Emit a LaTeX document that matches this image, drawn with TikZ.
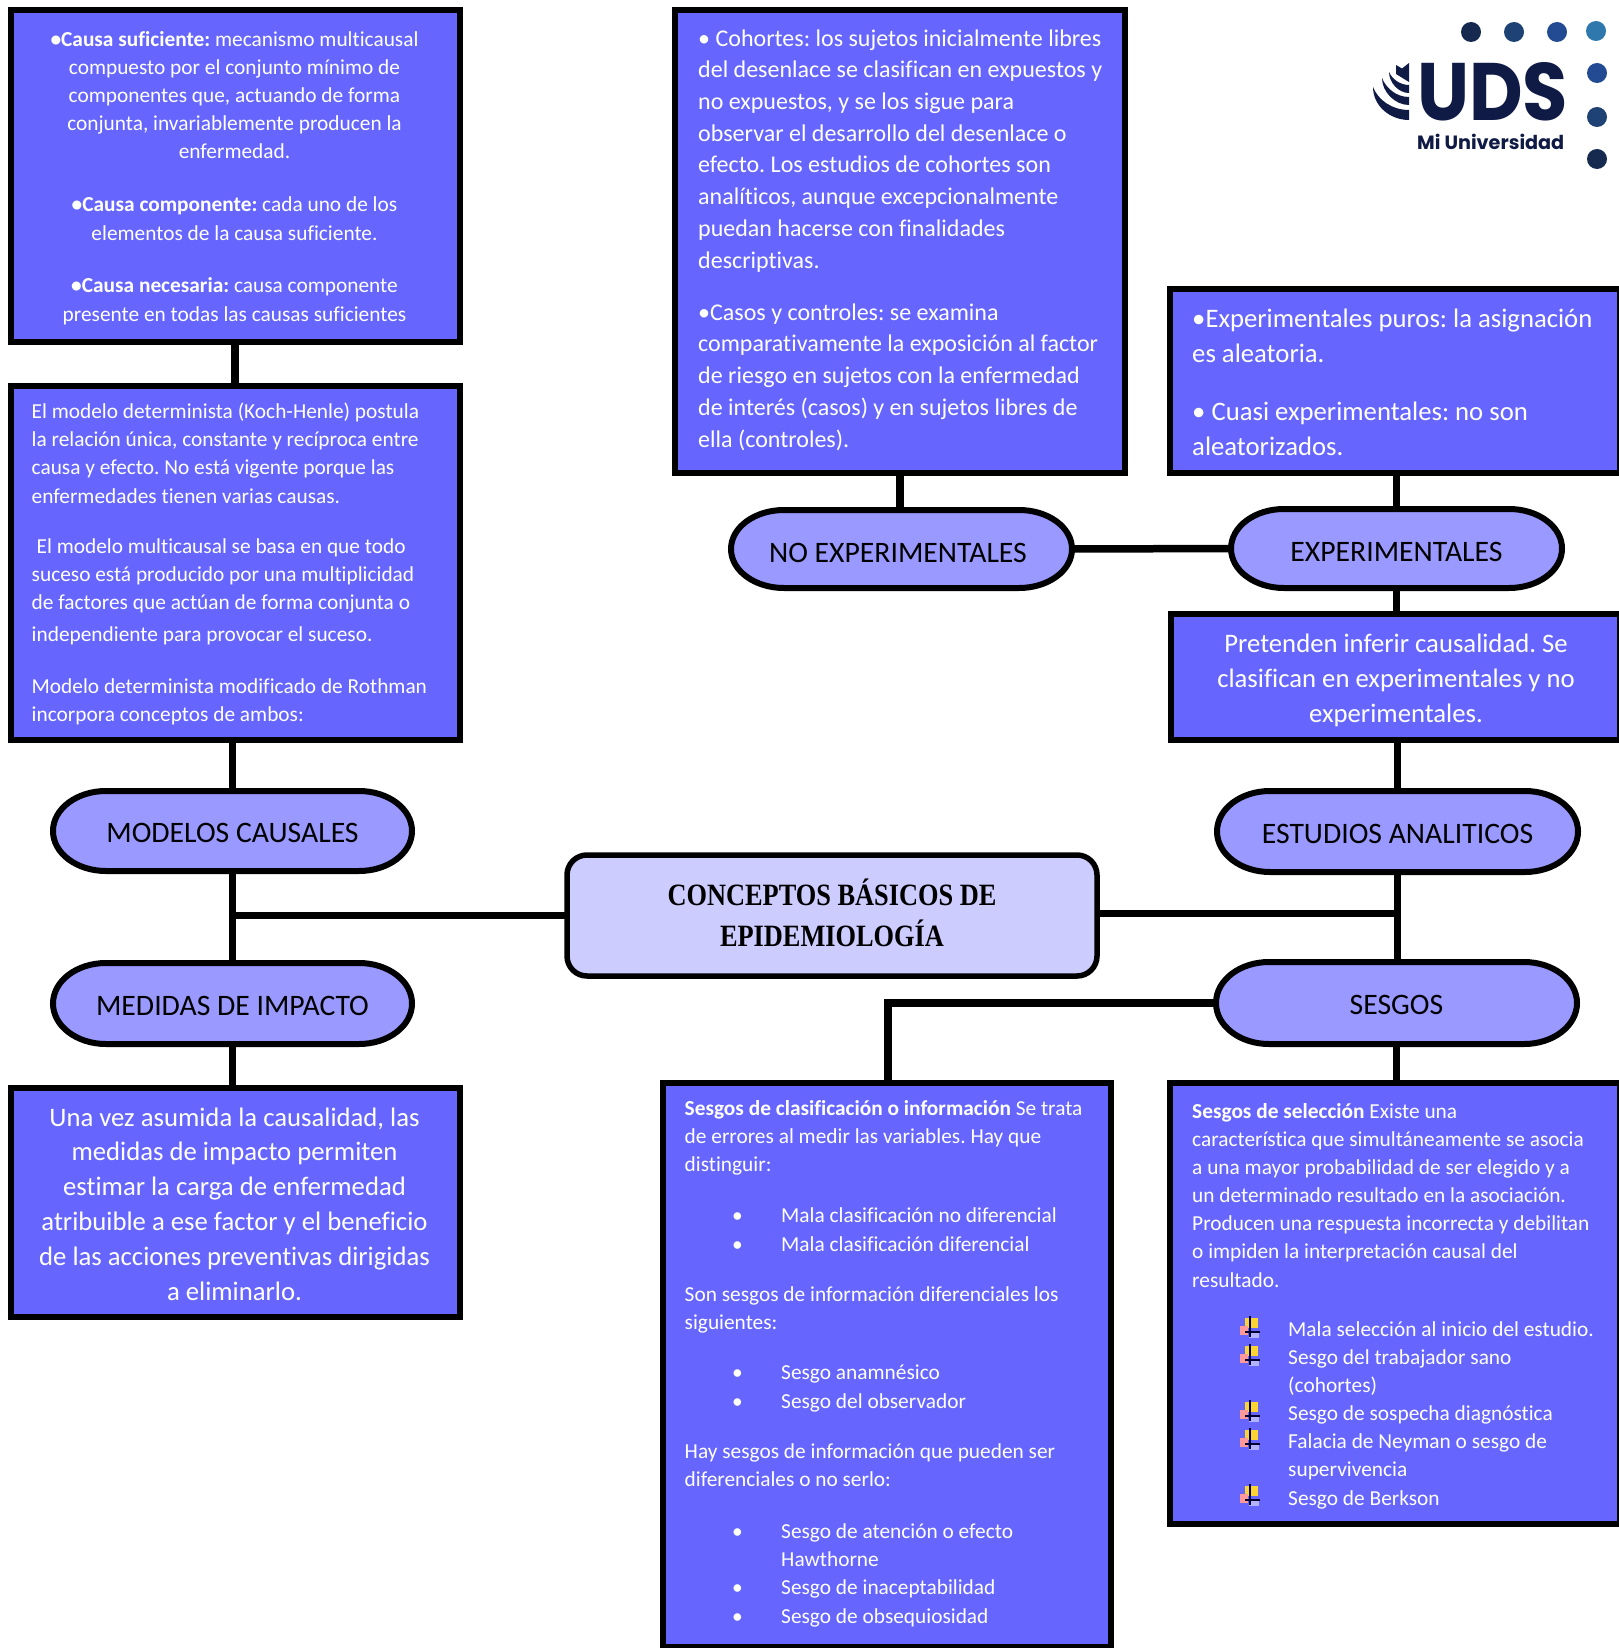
\documentclass[tikz,border=0pt]{standalone}
\usepackage{fontspec}
\usepackage{graphicx}
\setmainfont[Ligatures=CommonOff]{Carlito}
\newfontfamily\titlefont[FakeStretch=0.85]{Liberation Serif}
\newfontfamily\logofont{Poppins}
\definecolor{boxblue}{HTML}{6666FF}
\definecolor{pillblue}{HTML}{9999FF}
\definecolor{coreblue}{HTML}{CCCCFF}
\definecolor{logonavy}{HTML}{0F1A45}
\definecolor{dotA}{HTML}{16294F}
\definecolor{dotB}{HTML}{1E4273}
\definecolor{dotC}{HTML}{234B93}
\definecolor{dotD}{HTML}{2F78AE}
\newcommand{\fs}[2]{\fontsize{#1}{#2}\selectfont}
\newcommand{\li}{\makebox[49pt][l]{•}}
\newcommand{\ct}{\hspace*{49pt}}
\newcommand{\ricon}[2]{%
  \begin{scope}[shift={(#1,#2)}]
    \fill[yellow!65!orange!80!white] (-7,-14) rectangle (6,-4);
    \fill[red!40!white] (-12,-6) rectangle (-4,3);
    \fill[blue!30!white] (-3,-1) rectangle (7,6);
    \draw[black!80!blue,line width=1.2pt] (-2,-16) -- (-2,5);
    \draw[black!80!blue,line width=1.2pt] (-7,0) -- (8,0);
  \end{scope}}
% name, left, top, width, height, baseline drop, text
\newcommand{\pillnode}[7]{%
  \draw[pillline] ({#2+53},#3) -- ({#2+#4-53},#3)
    .. controls ({#2+#4-24},#3) and ({#2+#4},{#3+#5*0.22}) .. ({#2+#4},{#3+#5/2})
    .. controls ({#2+#4},{#3+#5*0.78}) and ({#2+#4-24},{#3+#5}) .. ({#2+#4-53},{#3+#5})
    -- ({#2+53},{#3+#5})
    .. controls ({#2+24},{#3+#5}) and (#2,{#3+#5*0.78}) .. (#2,{#3+#5/2})
    .. controls (#2,{#3+#5*0.22}) and ({#2+24},#3) .. ({#2+53},#3) -- cycle;
  \node[pilltext,minimum width=#4pt,minimum height=#5pt] (#1) at (#2,#3) {\raisebox{-#6pt}[0pt][0pt]{#7}};}
\tikzset{
  x=1pt,y=-1pt,
  bx/.style={draw=black,line width=6pt,fill=boxblue,inner sep=0pt,outer sep=0pt,anchor=north west},
  pillline/.style={draw=black,line width=6pt,fill=pillblue},
  pilltext/.style={inner sep=0pt,outer sep=0pt,text=black,font=\fs{29.7}{34},anchor=north west},
  core/.style={draw=black,line width=5.5pt,fill=coreblue,inner sep=0pt,outer sep=0pt,rounded corners=20pt,anchor=north west},
  link/.style={draw=black,line width=7.5pt},
  pl/.style={text=white,inner sep=0pt,anchor=base west,align=left},
  pc/.style={text=white,inner sep=0pt,anchor=base,align=center},
  small/.style={font=\fs{21.35}{28.05}},
  mid/.style={font=\fs{24}{31.7}},
  big/.style={font=\fs{26.7}{34.9}},
  dot/.style={circle,inner sep=0pt,minimum size=20pt},
}
\begin{document}
\frenchspacing
\begin{tikzpicture}
\useasboundingbox (0,0) rectangle (1618.4,1648);
\fill[white] (0,0) rectangle (1620,1648);
% boxes
\node[bx,minimum width=449pt,minimum height=332pt] (bA) at (10.5,10) {};
\node[bx,minimum width=449pt,minimum height=354pt] (bB) at (10.5,386) {};
\node[bx,minimum width=449pt,minimum height=229pt] (bI) at (10.5,1088) {};
\node[bx,minimum width=450pt,minimum height=463pt] (bC) at (675,10) {};
\node[bx,minimum width=450pt,minimum height=184pt] (bE) at (1170,289) {};
\node[bx,minimum width=449pt,minimum height=126pt] (bP) at (1171,614) {};
\node[bx,minimum width=448pt,minimum height=564pt] (bL) at (663,1083) {};
\node[bx,minimum width=450pt,minimum height=441pt] (bS) at (1170,1083) {};
% pills
\pillnode{pN}{731}{510}{341}{78}{13.5}{\hspace*{-7pt}NO EXPERIMENTALES}
\pillnode{pX}{1231}{509}{331}{79}{13}{EXPERIMENTALES}
\pillnode{pM}{53}{791}{359}{80}{11}{MODELOS CAUSALES}
\pillnode{pA}{1217}{791}{361}{81}{11.5}{ESTUDIOS ANALITICOS}
\pillnode{pD}{53}{963}{359}{81}{12}{MEDIDAS DE IMPACTO}
\pillnode{pS}{1216}{962}{361}{82}{11.5}{SESGOS}
% centre
\node[core,minimum width=530pt,minimum height=121pt,align=center,font=\titlefont\bfseries\fs{31}{41},text=black] (ctr) at (567,855) {CONCEPTOS BÁSICOS DE\\EPIDEMIOLOGÍA\rule[-6pt]{0pt}{0pt}};
% connectors
\coordinate (jl) at (pM.south |- ctr.west);
\coordinate (jr) at (pA.south |- ctr.east);
\draw[link] (bA.south) -- (bB.north);
\draw[link] (bB.south -| pM.north) -- (pM.north);
\draw[link] (pM.south) -- (pD.north);
\draw[link] (ctr.west) -- (jl);
\draw[link] (pD.south) -- (bI.north -| pD.south);
\draw[link] ([yshift=2pt]ctr.east) -- ([yshift=2pt]jr);
\draw[link] (pA.south) -- (pS.north -| pA.south);
\draw[link] (pA.north) -- (bP.south -| pA.north);
\draw[link] (bP.north -| pX.south) -- (pX.south);
\draw[link] (pX.north) -- (bE.south -| pX.north);
\draw[link] (bC.south) -- (bC.south |- pN.north);
\draw[link] (pN.east) -- (pX.west);
\coordinate (el) at (bL.north |- pS.west);
\draw[link] (pS.west) -- ([xshift=1pt]el) -- ([xshift=1pt]bL.north);
\draw[link] (pS.south) -- (bS.north -| pS.south);
% box A
\node[pc,small] (a1) at (234.5,159) {\textbf{•Causa suficiente:} mecanismo multicausal\\compuesto por el conjunto mínimo de\\componentes que, actuando de forma\\conjunta, invariablemente producen la\\enfermedad.};
\node[pc,small] (a2) at (234.5,240) {\textbf{•Causa componente:} cada uno de los\\elementos de la causa suficiente.};
\node[pc,small] (a3) at (234.5,321) {\textbf{•Causa necesaria:} causa componente\\presente en todas las causas suficientes};
% box B
\node[pl,small] (b1) at (31.5,503) {El modelo determinista (Koch-Henle) postula\\la relación única, constante y recíproca entre\\causa y efecto. No está vigente porque las\\enfermedades tienen varias causas.};
\node[pl,small] (b2) at (31.5,641.5) {\hspace*{5pt}El modelo multicausal se basa en que todo\\suceso está producido por una multiplicidad\\de factores que actúan de forma conjunta o\\[4pt]independiente para provocar el suceso.};
\node[pl,small] (b3) at (31.5,721.5) {Modelo determinista modificado de Rothman\\incorpora conceptos de ambos:};
% box C
\node[pl,mid] (c1) at (698,268) {• Cohortes: los sujetos inicialmente libres\\del desenlace se clasifican en expuestos y\\no expuestos, y se los sigue para\\observar el desarrollo del desenlace o\\efecto. Los estudios de cohortes son\\analíticos, aunque excepcionalmente\\puedan hacerse con finalidades\\descriptivas.};
\node[pl,mid] (c2) at (698,447) {•Casos y controles: se examina\\comparativamente la exposición al factor\\de riesgo en sujetos con la enfermedad\\de interés (casos) y en sujetos libres de\\ella (controles).};
% box E
\node[pl,big] (e1) at (1192,362.5) {•Experimentales puros: la asignación\\es aleatoria.};
\node[pl,big] (e2) at (1192,455) {• Cuasi experimentales: no son\\aleatorizados.};
% box P
\node[pc,big] (p1) at (1396,722) {Pretenden inferir causalidad. Se\\clasifican en experimentales y no\\experimentales.};
% box I
\node[pc,big] (i1) at (234.5,1300.5) {Una vez asumida la causalidad, las\\medidas de impacto permiten\\estimar la carga de enfermedad\\atribuible a ese factor y el beneficio\\de las acciones preventivas dirigidas\\a eliminarlo.};
% box L
\node[pl,small] (l1) at (684.5,1171.5) {\textbf{Sesgos de clasificación o información} Se trata\\de errores al medir las variables. Hay que\\distinguir:};
\node[pl,small] (l2) at (732,1251) {\li Mala clasificación no diferencial\\\li Mala clasificación diferencial};
\node[pl,small] (l3) at (684.5,1329.5) {Son sesgos de información diferenciales los\\siguientes:};
\node[pl,small] (l4) at (732,1408) {\li Sesgo anamnésico\\\li Sesgo del observador};
\node[pl,small] (l5) at (684.5,1486.5) {Hay sesgos de información que pueden ser\\diferenciales o no serlo:};
\node[pl,small] (l6) at (732,1623) {\li Sesgo de atención o efecto\\\ct Hawthorne\\\li Sesgo de inaceptabilidad\\\li Sesgo de obsequiosidad};
% box S
\node[pl,small] (s1) at (1192,1287) {\textbf{Sesgos de selección} Existe una\\característica que simultáneamente se asocia\\a una mayor probabilidad de ser elegido y a\\un determinado resultado en la asociación.\\Producen una respuesta incorrecta y debilitan\\o impiden la interpretación causal del\\resultado.};
\node[pl,small] (s2) at (1288,1505) {Mala selección al inicio del estudio.\\Sesgo del trabajador sano\\(cohortes)\\Sesgo de sospecha diagnóstica\\Falacia de Neyman o sesgo de\\supervivencia\\Sesgo de Berkson};
\ricon{1252}{1332}\ricon{1252}{1360}\ricon{1252}{1416}\ricon{1252}{1444}\ricon{1252}{1500}
% logo
\foreach \n/\px/\py/\c in {1/1471/32/dotA,2/1514/32/dotB,3/1557/32/dotC,4/1596/31/dotD,5/1597/73/dotC,6/1597/117/dotB,7/1597/159/dotA}
  \node[dot,fill=\c] (d\n) at (\px,\py) {};
\node[inner sep=0pt,text=logonavy,anchor=north west] (uds) at (1417,62) {\resizebox{151pt}{58pt}{\logofont\bfseries UDS}};
\node[inner sep=0pt,text=logonavy,anchor=base west,font=\logofont\bfseries\fs{19.2}{22}] (mi) at (1417,150) {Mi Universidad};
\fill[logonavy] (1373,87) .. controls (1373,106) and (1390,120) .. (1409,120) -- (1409,110) .. controls (1392,110) and (1378,100) .. cycle;
\fill[logonavy] (1382,78) .. controls (1382,92) and (1395,105) .. (1409,105) -- (1409,97) .. controls (1396,97) and (1386,88) .. cycle;
\fill[logonavy] (1389,72) .. controls (1389,82) and (1398,93) .. (1409,93) -- (1409,85) .. controls (1400,85) and (1392,79) .. cycle;
\fill[logonavy] (1396,65) -- (1402,68.5) -- (1409,63) -- (1409,82) -- (1396,74) -- cycle;
\end{tikzpicture}
\end{document}
